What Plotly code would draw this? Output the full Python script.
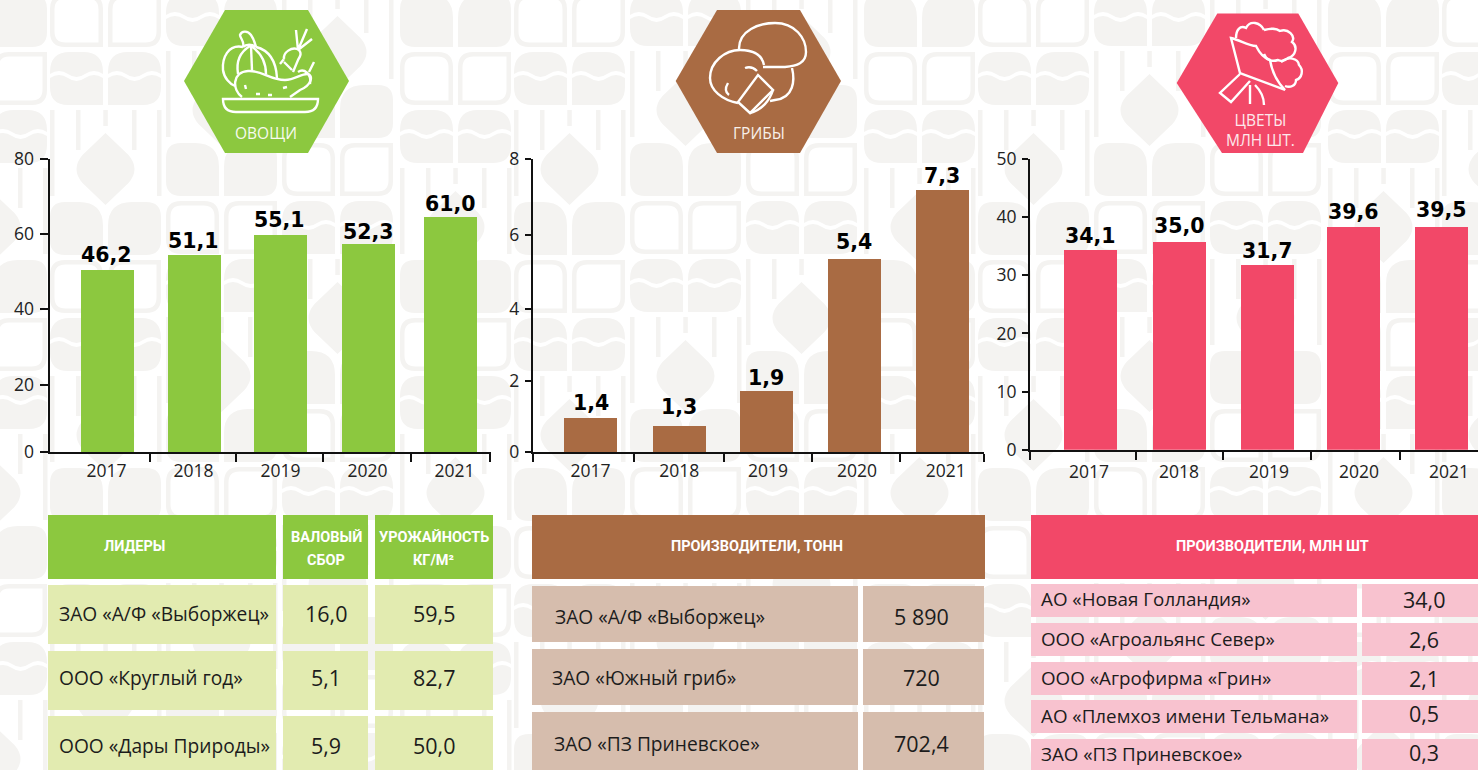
import re
import plotly.graph_objects as go

W, H = 1478, 770

# ---------- data ----------
years = [2017, 2018, 2019, 2020, 2021]

veg_bars = [49.8, 53.9, 59.3, 56.9, 64.2]
veg_labels = ["46,2", "51,1", "55,1", "52,3", "61,0"]
veg_pos = [2017.0, 2018.0, 2018.99, 2020.01, 2020.95]
veg_dy = [15, 14, 15, 12, 13]
veg_ticks = [0, 18.4, 39.0, 59.6, 80]
veg_ticktext = ["0", "20", "40", "60", "80"]

mush_bars = [0.93, 0.71, 1.67, 5.27, 7.16]
mush_labels = ["1,4", "1,3", "1,9", "5,4", "7,3"]
mush_pos = [2017.0, 2018.0, 2018.98, 2019.97, 2020.96]
mush_dy = [15, 19, 13, 17, 14]
mush_ticks = [0, 1.95, 3.9, 5.93, 8]
mush_ticktext = ["0", "2", "4", "6", "8"]

flow_bars = [34.4, 35.7, 31.8, 38.3, 38.3]
flow_labels = ["34,1", "35,0", "31,7", "39,6", "39,5"]
flow_pos = [2017.02, 2018.0, 2018.98, 2019.94, 2020.92]
flow_dy = [14, 16, 14, 15, 17]
flow_ticks = [0, 10, 20, 30, 40, 50]
flow_ticktext = ["0", "10", "20", "30", "40", "50"]

veg_names = ["ЗАО «А/Ф «Выборжец»", "ООО «Круглый год»", "ООО «Дары Природы»"]
veg_gross = ["16,0", "5,1", "5,9"]
veg_yield = ["59,5", "82,7", "50,0"]

mush_names = ["ЗАО «А/Ф «Выборжец»", "ЗАО «Южный гриб»", "ЗАО «ПЗ Приневское»"]
mush_tons = ["5 890", "720", "702,4"]

flow_names = ["АО «Новая Голландия»", "ООО «Агроальянс Север»", "ООО «Агрофирма «Грин»",
              "АО «Племхоз имени Тельмана»", "ЗАО «ПЗ Приневское»"]
flow_mln = ["34,0", "2,6", "2,1", "0,5", "0,3"]

GREEN, BROWN, PINK = "#8CC83F", "#A96B43", "#F24868"
GREEN_L, BROWN_L, PINK_L = "#E2EBB0", "#D6BDAD", "#F8C2CF"
PATTERN = "#F4F3F1"
NUM_FONT = "Open Sans"
BOLD_FONT = "DejaVu Sans"
HEAD_FONT = "Roboto"


def p(path):
    """Pixel path -> paper path."""
    out, is_x = [], True
    for tok in re.findall(r"[A-Za-z]|-?\d+\.?\d*", path):
        if tok.isalpha():
            out.append(tok)
            is_x = True
        else:
            v = float(tok)
            out.append(f"{v / W:.5f}" if is_x else f"{1 - v / H:.5f}")
            is_x = not is_x
    return " ".join(out)


shapes, annotations = [], []


def fill_path(path, color, rule="evenodd", layer="below"):
    shapes.append(dict(type="path", xref="paper", yref="paper", path=p(path), fillcolor=color,
                       line=dict(width=0), layer=layer, fillrule=rule))


def stroke(path, width=2.4, fill="rgba(0,0,0,0)"):
    shapes.append(dict(type="path", xref="paper", yref="paper", path=p(path), fillcolor=fill,
                       line=dict(color="white", width=width), layer="above"))


def rect(x0, y0, x1, y1, color):
    shapes.append(dict(type="rect", xref="paper", yref="paper", x0=x0 / W, x1=x1 / W,
                       y0=1 - y0 / H, y1=1 - min(y1, H) / H, fillcolor=color,
                       line=dict(width=0), layer="below"))


def text(x, y, s, size, color="#1c1c1c", font=NUM_FONT, anchor="center"):
    annotations.append(dict(x=x / W, y=1 - y / H, xref="paper", yref="paper", text=s, showarrow=False,
                            xanchor=anchor, yanchor="middle", font=dict(family=font, size=size, color=color)))


# ---------- background pattern ----------
TW, TH = 53, 53


def rr(x, y, w, h, tl, tr, br, bl):
    s = f"M {x + tl} {y} L {x + w - tr} {y} "
    if tr:
        s += f"Q {x + w} {y} {x + w} {y + tr} "
    s += f"L {x + w} {y + h - br} "
    if br:
        s += f"Q {x + w} {y + h} {x + w - br} {y + h} "
    s += f"L {x + bl} {y + h} "
    if bl:
        s += f"Q {x} {y + h} {x} {y + h - bl} "
    s += f"L {x} {y + tl} "
    if tl:
        s += f"Q {x} {y} {x + tl} {y} "
    return s + "Z "


def tile_f(x, y, left):
    if left:
        return rr(x, y, TW, TH, 15, 24, 0, 15)
    return rr(x, y, TW, TH, 24, 15, 15, 0)


def tile_o(x, y, left):
    t = 4.5
    if left:
        return rr(x, y, TW, TH, 15, 15, 0, 15) + rr(x + t, y + t, TW - 2 * t, TH - 2 * t, 11, 11, 0, 11)
    return rr(x, y, TW, TH, 15, 0, 15, 0) + rr(x + t, y + t, TW - 2 * t, TH - 2 * t, 11, 0, 11, 0)


def tile_w(x, y, left):
    a, b = y + 22, y + 26
    w = TW
    tl, tr = (20, 20)
    top = (f"M {x} {a} L {x} {y + tl} Q {x} {y} {x + tl} {y} L {x + w - tr} {y} Q {x + w} {y} {x + w} {y + tr} "
           f"L {x + w} {a} Q {x + w - 9} {a - 6} {x + w - 18} {a} Q {x + w / 2} {a + 6} {x + 18} {a} "
           f"Q {x + 9} {a - 6} {x} {a} Z ")
    bl, br = (18, 0) if left else (0, 18)
    bot = f"M {x} {b} Q {x + 9} {b - 6} {x + 18} {b} Q {x + w / 2} {b + 6} {x + w - 18} {b} Q {x + w - 9} {b - 6} {x + w} {b} "
    bot += f"L {x + w} {y + TH - br} "
    if br:
        bot += f"Q {x + w} {y + TH} {x + w - br} {y + TH} "
    bot += f"L {x + bl} {y + TH} "
    if bl:
        bot += f"Q {x} {y + TH} {x} {y + TH - bl} "
    return top + bot + "Z "


def vline(x, y, h, t=4.5):
    return f"M {x} {y} L {x + t} {y} L {x + t} {y + h} L {x} {y + h} Z "


def tile_r(x, y, left):
    if not left:
        return vline(x + 24, y, 40) + vline(x + 49, y, 86)
    cx, cy = x + 55.5, y + 59
    return (vline(x, y, 86) + vline(x + 26, y, 40) + vline(x + 53.3, y, 16) +
            f"M {cx} {cy - 36} L {cx + 23} {cy - 14} Q {cx + 29} {cy - 7} {cx + 29} {cy} Q {cx + 29} {cy + 7} {cx + 23} {cy + 14} "
            f"L {cx} {cy + 36} L {cx - 23} {cy + 14} Q {cx - 29} {cy + 7} {cx - 29} {cy} Q {cx - 29} {cy - 7} {cx - 23} {cy - 14} Z ")


CYCLE = [(tile_f, 58), (tile_o, 58), (tile_w, 58), (tile_r, 92)]
PERIOD_Y = 266
pair_x = [-64, 50, 166, 282]       # left column of each pair within one 464 px period
pair_f_y = [-6, -64, -123, 85]     # where an "F" tile begins in that pair
for rep in (0, 464, 928, 1392):
    pat = ""
    for px0, fy in zip(pair_x, pair_f_y):
        for left, cx0 in ((True, px0 + rep), (False, px0 + rep + 58)):
            y = fy - PERIOD_Y
            while y < H:
                for fn, h in CYCLE:
                    if -100 < y < H and -100 < cx0 < W + 60:
                        pat += fn(cx0, y, left)
                    y += h
    fill_path(pat, PATTERN, rule="evenodd")

# ---------- hexagons ----------
fill_path("M 184 81 L 225 10 L 308 10 L 349 81 L 308 153 L 225 153 Z", GREEN)
fill_path("M 675.7 81 L 717 10 L 800 10 L 841 81 L 800 153 L 717 153 Z", BROWN)
fill_path("M 1176.7 83 L 1217.3 13.5 L 1298.3 13.5 L 1338.3 83 L 1303 153 L 1222 153 Z", PINK)
text(265.7, 133, "ОВОЩИ", 15.5, "#F7FAEE")
text(758.7, 133, "ГРИБЫ", 15.5, "#F8F0EA")
text(1260, 129.5, "ЦВЕТЫ<br>МЛН ШТ.", 15.5, "#FDE8EC")

# vegetables icon
stroke("M 223 99 L 318 99 Q 318 112 305 112 L 236 112 Q 223 112 223 99 Z")
stroke("M 243 47 C 228 44 222 58 223 70 C 224 78 230 84 235 86")
stroke("M 256 47 C 268 50 276 60 277 78")
stroke("M 243 47 C 246 44 252 44 256 47")
stroke("M 250 46 C 240 52 236 62 238 74")
stroke("M 251 46 L 252 70")
stroke("M 251 46 C 260 52 266 60 266 74")
stroke("M 243 47 C 245 42 240 38 240 35 C 242 30 248 31 251 35 C 254 39 255 44 256 47")
stroke("M 242 97 C 232 90 232 72 248 71 C 262 70 270 80 285 80 C 295 80 302 73 308 74 C 313 76 312 85 300 90 L 290 97")
stroke("M 245 85 L 246 89 M 256 94 L 260 94 M 268 95 L 272 95 M 283 88 L 287 87")
stroke("M 284 59 C 283 52 292 47 297 49 C 303 52 300 57 298 60 L 293 72 M 284 59 L 280 64 M 284 62 L 292 70")
stroke("M 298 50 L 296 30 M 298 50 L 307 29 M 298 50 L 312 39")
stroke("M 298 72 C 304 68 312 74 310 84 M 309 72 L 314 62")
# mushrooms icon
stroke("M 739 50 C 738 30 760 23 775 23 C 795 23 806 38 806 52 C 806 63 797 66 785 67 L 763 67")
stroke("M 792 68 C 795 80 794 98 775 100 L 770 101")
stroke("M 738 103 C 722 100 710 90 710 78 C 710 62 725 50 740 50 C 755 50 762 55 764 65")
stroke("M 758 75 L 773 90 L 750 113 L 738 102 Z")
stroke("M 773 90 C 770 100 762 110 750 113")
stroke("M 745 68 C 750 66 754 68 757 71 M 728 83 C 725 88 725 92 729 95")
# bouquet icon
stroke("M 1231 38 L 1240 73 L 1285 90 C 1277 82 1272 72 1270 60 C 1262 58 1258 50 1256 46 C 1248 46 1240 40 1231 38 Z")
stroke("M 1236 38 C 1236 30 1240 25 1246 28 C 1250 20 1260 22 1264 30")
stroke("M 1264 30 C 1272 28 1276 28 1280 31 C 1288 28 1296 36 1292 42 C 1298 46 1296 56 1288 58 "
       "C 1286 60 1282 62 1278 60 C 1272 62 1266 60 1264 54")
stroke("M 1281 62 C 1288 56 1298 58 1299 65 C 1304 70 1302 78 1296 80 C 1296 86 1290 88 1285 86")
stroke("M 1240 74 L 1220 93 L 1231 102 L 1250 81")
stroke("M 1250 85 L 1250 104 M 1255 85 C 1262 92 1264 100 1264 105")

# ---------- tables ----------
def header(x0, x1, color):
    rect(x0, 515, x1, 579, color)

HS = 14.5
VS = 21.5
# vegetables
for x0, x1 in ((48, 276), (283, 368), (375, 493)):
    header(x0, x1, GREEN)
    for y0, y1 in ((585, 644), (651, 710), (716, 775)):
        rect(x0, y0, x1, y1, GREEN_L)
text(134, 546, "<b>ЛИДЕРЫ</b>", HS, "white", HEAD_FONT)
text(326, 537, "<b>ВАЛОВЫЙ</b>", HS, "white", HEAD_FONT)
text(326, 560, "<b>СБОР</b>", HS, "white", HEAD_FONT)
text(433.5, 537, "<b>УРОЖАЙНОСТЬ</b>", HS, "white", HEAD_FONT)
text(433.5, 560, "<b>КГ/М²</b>", HS, "white", HEAD_FONT)
for name, g, yl, y in zip(veg_names, veg_gross, veg_yield, (613, 677, 745)):
    text(57, y, name, 19.2, anchor="left")
    text(326, y, g, VS)
    text(433.7, y, yl, VS)

# mushrooms
header(532, 985, BROWN)
text(757, 546, "<b>ПРОИЗВОДИТЕЛИ, ТОНН</b>", HS, "white", HEAD_FONT)
for y0, y1 in ((586, 642), (649, 705), (712, 775)):
    rect(532, y0, 858, y1, BROWN_L)
    rect(863, y0, 984, y1, BROWN_L)
for name, v, y, x in zip(mush_names, mush_tons, (616, 677, 743), (552.7, 550.3, 551.7)):
    text(x, y, name, 19.2, anchor="left")
    text(921, y, v, VS)

# flowers
header(1031, 1478, PINK)
text(1272, 546, "<b>ПРОИЗВОДИТЕЛИ, МЛН ШТ</b>", HS, "white", HEAD_FONT)
for y0, y1 in ((584, 617), (623, 656), (662, 695), (700, 733), (739, 775)):
    rect(1031, y0, 1357, y1, PINK_L)
    rect(1362, y0, 1478, y1, PINK_L)
for name, v, y, yv in zip(flow_names, flow_mln, (599, 639, 678, 716, 754), (599, 639, 678, 713, 752)):
    text(1039, y, name, 18.8, anchor="left")
    text(1424, yv, v, VS)

# ---------- charts ----------
fig = go.Figure()

panels = [
    dict(ax="", pos=veg_pos, vals=veg_bars, labels=veg_labels, dy=veg_dy, color=GREEN,
         px=(49.5, 491, 159, 452.3), x0=106.5, unit=87.0, ymax=80, ticks=veg_ticks, ticktext=veg_ticktext,
         minor=[2017.5, 2018.49, 2019.49, 2020.5, 2021.41], ticklen=8, standoff=2),
    dict(ax="2", pos=mush_pos, vals=mush_bars, labels=mush_labels, dy=mush_dy, color=BROWN,
         px=(532.7, 984, 159, 452.2), x0=590.5, unit=88.8, ymax=8, ticks=mush_ticks, ticktext=mush_ticktext,
         minor=[2017.49, 2018.5, 2019.49, 2020.48, 2021.43], ticklen=6, standoff=2),
    dict(ax="3", pos=flow_pos, vals=flow_bars, labels=flow_labels, dy=flow_dy, color=PINK,
         px=(1030, 1478, 159, 449.7), x0=1089, unit=90.0, ymax=50, ticks=flow_ticks, ticktext=flow_ticktext,
         minor=[2017.52, 2018.49, 2019.47, 2020.46], ticklen=6, standoff=5),
]

layout_axes = {}
for pn in panels:
    l, r, t, b = pn["px"]
    rng = [2017 + (l - pn["x0"]) / pn["unit"], 2017 + (r - pn["x0"]) / pn["unit"]]
    minor_vals = pn["minor"] + ([rng[0]] if pn["ax"] else [])
    fig.add_trace(go.Bar(x=pn["pos"], y=pn["vals"], width=53 / pn["unit"], marker=dict(color=pn["color"], line=dict(width=0)),
                         xaxis="x" + pn["ax"], yaxis="y" + pn["ax"], showlegend=False,
                         customdata=pn["labels"], hovertemplate="%{x}: %{customdata}<extra></extra>"))
    layout_axes["xaxis" + pn["ax"]] = dict(
        domain=[l / W, r / W], range=rng, anchor="y" + pn["ax"], showgrid=False, zeroline=False, automargin=False,
        showline=True, linecolor="#111", linewidth=2, tickmode="array", tickvals=years,
        ticktext=[str(v) for v in years], ticks="", ticklabelstandoff=pn["standoff"],
        tickfont=dict(family=NUM_FONT, size=17.5, color="#222"),
        minor=dict(tickmode="array", tickvals=minor_vals, ticks="outside", ticklen=8, tickwidth=2,
                   tickcolor="#111", showgrid=False))
    layout_axes["yaxis" + pn["ax"]] = dict(
        domain=[1 - b / H, 1 - t / H], range=[0, pn["ymax"]], anchor="x" + pn["ax"], showgrid=False, automargin=False,
        zeroline=False, showline=True, linecolor="#111", linewidth=2, tickmode="array", tickvals=pn["ticks"],
        ticktext=pn["ticktext"], ticks="outside", ticklen=pn["ticklen"], tickwidth=2, tickcolor="#111",
        ticklabelstandoff=2, tickfont=dict(family=NUM_FONT, size=17.5, color="#222"))
    for xv, val, lab, gap in zip(pn["pos"], pn["vals"], pn["labels"], pn["dy"]):
        annotations.append(dict(x=xv, y=val, xref="x" + pn["ax"], yref="y" + pn["ax"], text=f"<b>{lab}</b>",
                                showarrow=False, yshift=gap, xanchor="center", yanchor="middle",
                                font=dict(family=BOLD_FONT, size=20.5, color="black")))

fig.update_layout(width=W, height=H, margin=dict(l=0, r=0, t=0, b=0, pad=0),
                  paper_bgcolor="white", plot_bgcolor="rgba(0,0,0,0)", bargap=0,
                  shapes=shapes, annotations=annotations, showlegend=False, **layout_axes)

fig.write_html("out.html", config=dict(displayModeBar=False),
               post_script="document.body.style.margin='0';document.body.style.overflow='hidden';")
